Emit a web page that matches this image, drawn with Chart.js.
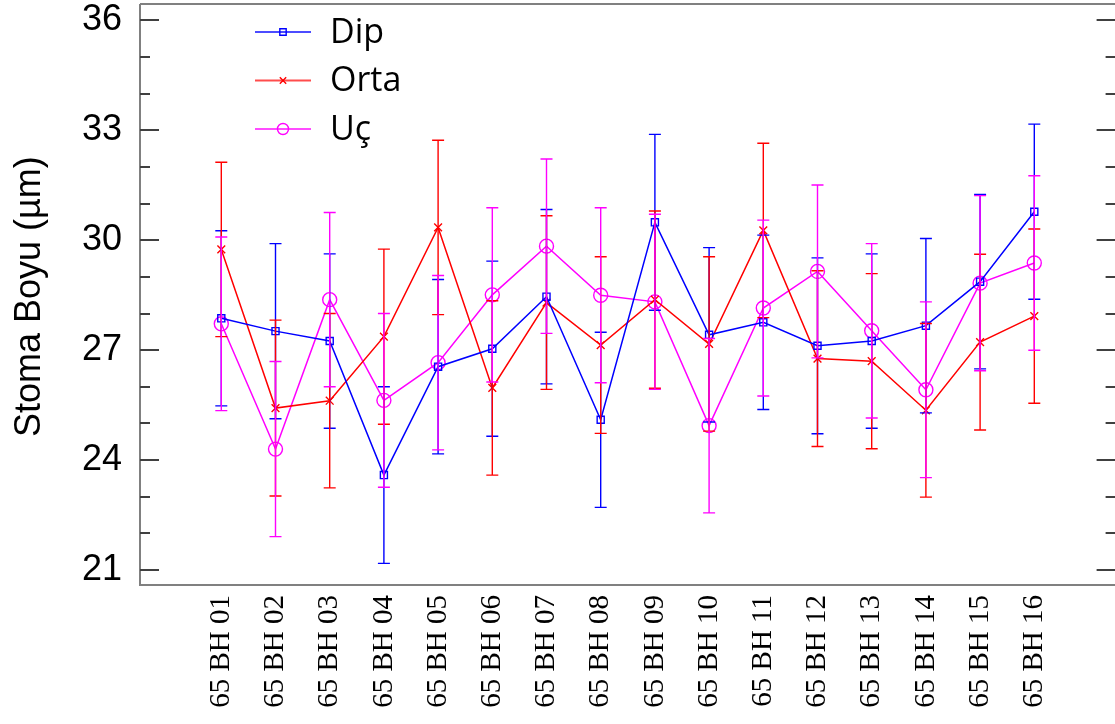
<!DOCTYPE html>
<html>
<head>
<meta charset="utf-8">
<script src="https://cdn.jsdelivr.net/npm/chart.js@4"></script>
<style>
  html, body { margin: 0; padding: 0; background: #fff; overflow: hidden; }
  #wrap { width: 1124px; height: 724px; }
</style>
</head>
<body>
<div id="wrap"><canvas id="chart"></canvas></div>
<script>
// --- Données ---
const categories = ['65 BH 01', '65 BH 02', '65 BH 03', '65 BH 04', '65 BH 05', '65 BH 06', '65 BH 07', '65 BH 08',
                    '65 BH 09', '65 BH 10', '65 BH 11', '65 BH 12', '65 BH 13', '65 BH 14', '65 BH 15', '65 BH 16'];

const dipValues  = [27.87, 27.52, 27.25, 23.59, 26.55, 27.04, 28.46, 25.10, 30.49, 27.42, 27.76, 27.12, 27.25, 27.67, 28.87, 30.78];
const dipErrors  = [2.39, 2.39, 2.38, 2.41, 2.38, 2.39, 2.38, 2.39, 2.40, 2.38, 2.38, 2.40, 2.38, 2.38, 2.38, 2.39];

const ortaValues = [29.75, 25.42, 25.62, 27.37, 30.35, 25.97, 28.30, 27.14, 28.38, 27.17, 30.27, 26.77, 26.70, 25.36, 27.22, 27.93];
const ortaErrors = [2.38, 2.40, 2.38, 2.39, 2.38, 2.38, 2.37, 2.41, 2.42, 2.38, 2.38, 2.40, 2.39, 2.37, 2.40, 2.38];

const ucValues   = [27.72, 24.30, 28.38, 25.63, 26.66, 28.51, 29.84, 28.50, 28.32, 24.94, 28.15, 29.15, 27.53, 25.92, 28.83, 29.38];
const ucErrors   = [2.37, 2.39, 2.38, 2.37, 2.38, 2.38, 2.38, 2.39, 2.39, 2.38, 2.40, 2.36, 2.38, 2.40, 2.39, 2.38];

const yTicks = [21, 22, 23, 24, 25, 26, 27, 28, 29, 30, 31, 32, 33, 34, 35, 36];
const yTitle = 'Stoma Boyu (µm)';

// emplacements vides de chaque côté (comme sur l'original)
const labels = [''].concat(categories, ['']);
const pad = arr => [null].concat(arr, [null]);

const series = [
    { label: 'Dip',  data: dipValues,  errors: dipErrors,  color: '#0000ff', style: 'rect',     radius: 5 },
    { label: 'Orta', data: ortaValues, errors: ortaErrors, color: '#ff0000', style: 'crossRot', radius: 5.5 },
    { label: 'Uç',   data: ucValues,   errors: ucErrors,   color: '#ff00ff', style: 'circle',   radius: 7 }
];

// --- Barres d'erreur ---
const errorBars = {
    id: 'errorBars',
    afterDatasetsDraw(chart) {
        const ctx = chart.ctx;
        const yScale = chart.scales.y;
        series.forEach((s, i) => {
            const meta = chart.getDatasetMeta(i);
            ctx.save();
            ctx.strokeStyle = s.color;
            ctx.lineWidth = 1.4;
            meta.data.forEach((pt, j) => {
                if (j === 0 || j === labels.length - 1) return;
                const v = s.data[j - 1];
                const e = s.errors[j - 1];
                const yTop = yScale.getPixelForValue(v + e);
                const yBot = yScale.getPixelForValue(v - e);
                ctx.beginPath();
                ctx.moveTo(pt.x, yTop); ctx.lineTo(pt.x, yBot);
                ctx.moveTo(pt.x - 6, yTop); ctx.lineTo(pt.x + 6, yTop);
                ctx.moveTo(pt.x - 6, yBot); ctx.lineTo(pt.x + 6, yBot);
                ctx.stroke();
            });
            ctx.restore();
        });
    }
};

// --- Graduations intérieures + cadre + légende ---
const frame = {
    id: 'frame',
    afterDraw(chart) {
        const ctx = chart.ctx;
        const area = chart.chartArea;
        const yScale = chart.scales.y;
        ctx.save();
        ctx.strokeStyle = '#404040';
        ctx.lineWidth = 2;
        yScale.ticks.forEach(t => {
            const y = Math.round(yScale.getPixelForValue(t.value));
            const len = t.value % 3 === 0 ? 19 : 10;
            ctx.beginPath();
            ctx.moveTo(area.left, y); ctx.lineTo(area.left + len, y);
            ctx.moveTo(area.right, y); ctx.lineTo(area.right - len, y);
            ctx.stroke();
        });
        // bord supérieur, un peu au-dessus de la dernière graduation
        const yFrame = Math.round(yScale.getPixelForValue(36)) - 16;
        ctx.strokeStyle = '#808080';
        ctx.beginPath();
        ctx.moveTo(area.left, yFrame); ctx.lineTo(area.right, yFrame);
        ctx.moveTo(area.left, yFrame); ctx.lineTo(area.left, area.top);
        ctx.stroke();

        // légende
        series.forEach((s, i) => {
            const y = yFrame + 28 + i * 48.5;
            const x0 = area.left + 115, x1 = area.left + 171;
            ctx.strokeStyle = s.color;
            ctx.globalAlpha = 0.7;
            ctx.lineWidth = 2;
            ctx.beginPath();
            ctx.moveTo(x0, y); ctx.lineTo(x1, y);
            ctx.stroke();
            ctx.globalAlpha = 1;
            ctx.lineWidth = 1.4;
            ctx.fillStyle = 'rgba(0,0,0,0)';
            Chart.helpers.drawPoint(ctx, { pointStyle: s.style, radius: s.style === 'circle' ? 5.5 : 4.5, rotation: 0, borderWidth: 1.4 }, (x0 + x1) / 2, y);
            ctx.fillStyle = '#000';
            ctx.font = '34px "Open Sans"';
            ctx.textBaseline = 'middle';
            ctx.textAlign = 'left';
            ctx.fillText(s.label, area.left + 190, y + 1);
        });
        ctx.restore();
    }
};

const ctx = document.getElementById('chart').getContext('2d');
new Chart(ctx, {
    type: 'line',
    data: {
        labels: labels,
        datasets: series.map(s => ({
            label: s.label,
            data: pad(s.data),
            borderColor: s.color,
            backgroundColor: 'rgba(0,0,0,0)',
            borderWidth: 1.5,
            pointStyle: s.style,
            pointRadius: s.radius,
            pointBorderWidth: 1.4,
            pointBorderColor: s.color,
            pointBackgroundColor: 'rgba(0,0,0,0)',
            tension: 0,
            spanGaps: false
        }))
    },
    options: {
        responsive: true,
        maintainAspectRatio: false,
        animation: false,
        layout: { padding: { top: 0, right: 1, left: 0, bottom: 0 } },
        plugins: {
            legend: { display: false },
            tooltip: { enabled: false }
        },
        scales: {
            x: {
                type: 'category',
                offset: true,
                grid: { display: false, drawTicks: false },
                border: { display: true, color: '#808080', width: 2 },
                ticks: {
                    autoSkip: false,
                    minRotation: 90,
                    maxRotation: 90,
                    padding: 10,
                    color: '#000',
                    font: { family: '"Liberation Serif"', size: 29 }
                },
                afterFit: scale => {
                    scale.height = 139;
                    scale.paddingLeft = 0;
                    scale.paddingRight = 0;
                }
            },
            y: {
                min: 20.59,
                max: 36.33,
                grid: { display: false, drawTicks: false },
                border: { display: true, color: '#808080', width: 2 },
                afterBuildTicks: scale => { scale.ticks = yTicks.map(v => ({ value: v })); },
                ticks: {
                    autoSkip: false,
                    padding: 18,
                    color: '#000',
                    font: { family: '"Liberation Sans"', size: 36 },
                    callback: v => (v % 3 === 0 ? String(v) : '')
                },
                title: {
                    display: true,
                    text: yTitle,
                    color: '#000',
                    font: { family: '"Liberation Sans"', size: 36 },
                    padding: { top: 8, bottom: 0 }
                },
                afterFit: scale => {
                    scale.width = 140;
                    scale.paddingTop = 0;
                    scale.paddingBottom = 0;
                }
            }
        }
    },
    plugins: [errorBars, frame]
});
</script>
</body>
</html>
